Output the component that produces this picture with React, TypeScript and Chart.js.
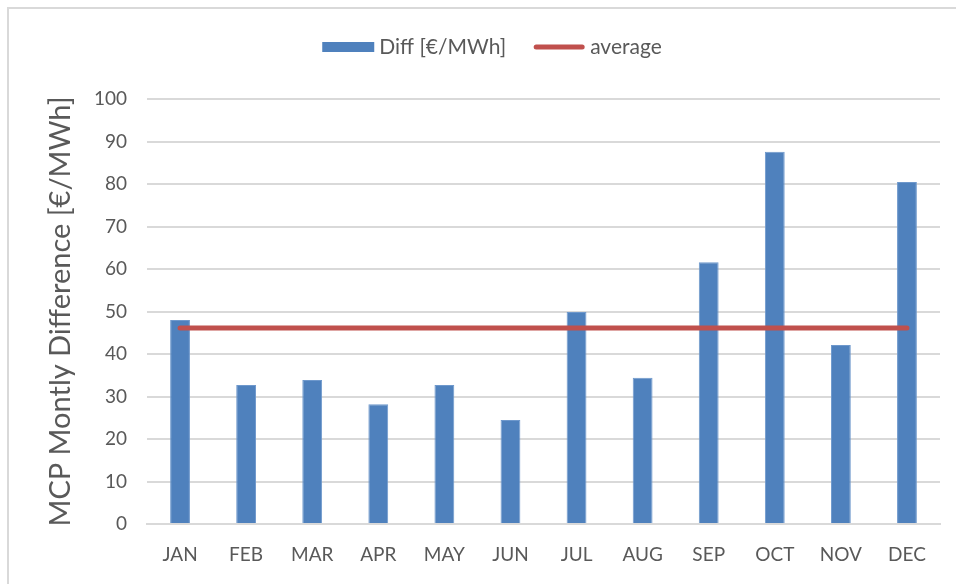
import React, { useEffect, useRef } from 'react';
import { Chart, registerables } from 'chart.js';

Chart.register(...registerables);

const MONTHS = ['JAN', 'FEB', 'MAR', 'APR', 'MAY', 'JUN', 'JUL', 'AUG', 'SEP', 'OCT', 'NOV', 'DEC'];
const DIFF = [48.0, 32.7, 33.9, 28.2, 32.7, 24.5, 49.9, 34.4, 61.6, 87.6, 42.1, 80.5];
const AVERAGE = [46.1, 46.1, 46.1, 46.1, 46.1, 46.1, 46.1, 46.1, 46.1, 46.1, 46.1, 46.1];
const SERIES_NAMES = ['Diff [€/MWh]', 'average'];
const Y_TITLE = 'MCP Montly Difference [€/MWh]';
const Y_MIN = 0;
const Y_MAX = 100;
const Y_STEP = 10;

const BAR_COLOR = '#4F81BD';
const LINE_COLOR = '#C0504D';
const TEXT_COLOR = '#595959';
const GRID_COLOR = '#D9D9D9';
const FONT = 'Lato, "Open Sans", sans-serif';

const legendPlugin = {
  id: 'customLegend',
  afterDraw(chart: any) {
    const ctx = chart.ctx as CanvasRenderingContext2D;
    ctx.save();
    ctx.font = `21px ${FONT}`;
    ctx.textBaseline = 'middle';
    ctx.fillStyle = TEXT_COLOR;
    const symW = 52;
    const gapSym = 5;
    const gapItem = 27;
    const widths = chart.data.datasets.map((d: any) => ctx.measureText(d.label).width);
    let total = 0;
    widths.forEach((w: number, i: number) => {
      total += symW + gapSym + w + (i < widths.length - 1 ? gapItem : 0);
    });
    let x = 492 - total / 2;
    const cy = 47;
    chart.data.datasets.forEach((d: any, i: number) => {
      if (d.type === 'line') {
        ctx.strokeStyle = d.borderColor;
        ctx.lineWidth = 5;
        ctx.lineCap = 'round';
        ctx.beginPath();
        ctx.moveTo(x + 3, cy);
        ctx.lineTo(x + symW - 3, cy);
        ctx.stroke();
      } else {
        ctx.fillStyle = d.backgroundColor;
        ctx.fillRect(x, cy - 5, symW, 10);
      }
      x += symW + gapSym;
      ctx.fillStyle = TEXT_COLOR;
      ctx.textAlign = 'left';
      ctx.fillText(d.label, x, cy);
      x += widths[i] + gapItem;
    });
    ctx.restore();
  },
};

export default function App() {
  const canvasRef = useRef<HTMLCanvasElement | null>(null);

  useEffect(() => {
    if (!canvasRef.current) return;
    const chart = new Chart(canvasRef.current, {
      type: 'bar',
      data: {
        labels: MONTHS,
        datasets: [
          {
            type: 'bar',
            label: SERIES_NAMES[0],
            data: DIFF,
            backgroundColor: BAR_COLOR,
            borderColor: '#6E98CC',
            borderWidth: 1,
            barPercentage: 0.3,
            categoryPercentage: 1,
            order: 2,
          } as any,
          {
            type: 'line',
            label: SERIES_NAMES[1],
            data: AVERAGE,
            borderColor: LINE_COLOR,
            backgroundColor: LINE_COLOR,
            borderWidth: 5,
            borderCapStyle: 'round',
            pointRadius: 0,
            tension: 0,
            order: 1,
          } as any,
        ],
      },
      options: {
        animation: false,
        responsive: false,
        maintainAspectRatio: false,
        layout: { padding: { left: 0, right: 16, top: 99, bottom: 20 } },
        plugins: {
          legend: { display: false },
          tooltip: { enabled: false },
        },
        scales: {
          x: {
            afterFit: (scale: any) => {
              scale.height = 40;
            },
            grid: { display: false },
            border: { display: true, color: GRID_COLOR, width: 2 },
            ticks: { color: TEXT_COLOR, font: { family: FONT, size: 19 }, padding: 11, maxRotation: 0 },
          },
          y: {
            min: Y_MIN,
            max: Y_MAX,
            afterFit: (scale: any) => {
              scale.width = 147;
            },
            grid: { color: GRID_COLOR, lineWidth: 2, drawTicks: false },
            border: { display: false },
            ticks: { stepSize: Y_STEP, color: TEXT_COLOR, font: { family: FONT, size: 19 }, padding: 20 },
            title: {
              display: true,
              text: Y_TITLE,
              color: TEXT_COLOR,
              font: { family: FONT, size: 29 },
              padding: { top: 43, bottom: 0 },
            },
          },
        },
      },
      plugins: [legendPlugin],
    });
    return () => chart.destroy();
  }, []);

  return (
    <div style={{ position: 'fixed', left: 0, top: 0, width: 956, height: 584, overflow: 'hidden', background: '#fff' }}>
      <div
        style={{
          position: 'absolute',
          left: 7,
          top: 7,
          width: 2000,
          height: 2000,
          borderLeft: `2px solid ${GRID_COLOR}`,
          borderTop: `2px solid ${GRID_COLOR}`,
        }}
      />
      <canvas ref={canvasRef} width={956} height={584} style={{ position: 'absolute', left: 0, top: 0 }} />
    </div>
  );
}
